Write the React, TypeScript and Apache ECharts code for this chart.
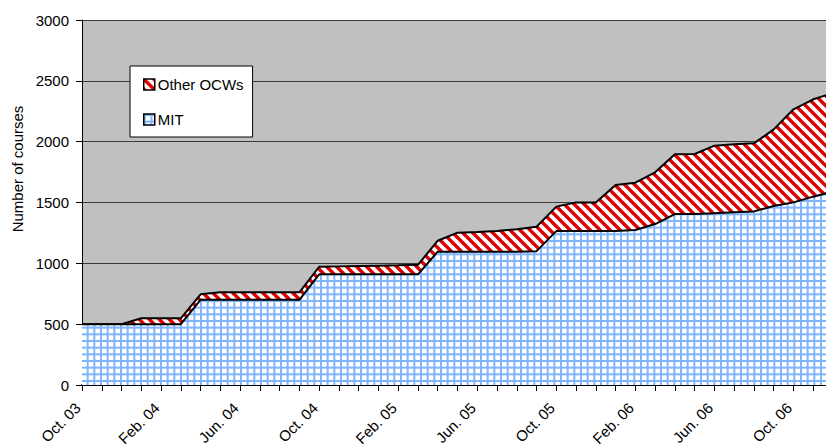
import React, { useEffect, useRef } from 'react';
import * as echarts from 'echarts';

// Monthly categories (Oct. 03 .. Dec. 06)
const months: string[] = [
  'Oct. 03', 'Nov. 03', 'Dec. 03',
  'Jan. 04', 'Feb. 04', 'Mar. 04', 'Apr. 04', 'May 04', 'Jun. 04', 'Jul. 04', 'Aug. 04', 'Sep. 04', 'Oct. 04', 'Nov. 04', 'Dec. 04',
  'Jan. 05', 'Feb. 05', 'Mar. 05', 'Apr. 05', 'May 05', 'Jun. 05', 'Jul. 05', 'Aug. 05', 'Sep. 05', 'Oct. 05', 'Nov. 05', 'Dec. 05',
  'Jan. 06', 'Feb. 06', 'Mar. 06', 'Apr. 06', 'May 06', 'Jun. 06', 'Jul. 06', 'Aug. 06', 'Sep. 06', 'Oct. 06', 'Nov. 06', 'Dec. 06',
];

// MIT courses published
const mitCourses: number[] = [
  500, 500, 500, 500, 500, 500, 700, 700, 700, 700, 700, 700, 910,
  910, 910, 910, 910, 910, 1096, 1096, 1096, 1096, 1096, 1100, 1265,
  1265, 1265, 1265, 1274, 1323, 1405, 1405, 1411, 1419, 1427, 1471, 1501,
  1548, 1590,
];

// Courses of other OpenCourseWare projects (stacked on MIT)
const otherOcwCourses: number[] = [
  0, 0, 0, 48, 48, 48, 45, 62, 62, 62, 62, 62, 62,
  65, 68, 71, 74, 78, 90, 156, 162, 170, 184, 201, 201,
  236, 236, 379, 389, 425, 491, 494, 556, 559, 559, 630, 765,
  800, 810,
];

const yMin = 0;
const yMax = 3000;
const yInterval = 500;

const FONT = '"Liberation Sans", Arial, Helvetica, sans-serif';

function makeBlueGrid(): HTMLCanvasElement {
  const c = document.createElement('canvas');
  c.width = 20;
  c.height = 20;
  const ctx = c.getContext('2d')!;
  ctx.fillStyle = '#ffffff';
  ctx.fillRect(0, 0, 20, 20);
  ctx.strokeStyle = '#80b4ff';
  ctx.lineWidth = 2;
  for (let k = 0; k < 3; k++) {
    const p = 1 + (k * 20) / 3;
    ctx.beginPath();
    ctx.moveTo(p, 0);
    ctx.lineTo(p, 20);
    ctx.stroke();
    ctx.beginPath();
    ctx.moveTo(0, p);
    ctx.lineTo(20, p);
    ctx.stroke();
  }
  return c;
}

function makeRedHatch(): HTMLCanvasElement {
  const s = 10;
  const c = document.createElement('canvas');
  c.width = s;
  c.height = s;
  const ctx = c.getContext('2d')!;
  ctx.fillStyle = '#ffffff';
  ctx.fillRect(0, 0, s, s);
  ctx.strokeStyle = '#dd0000';
  ctx.lineWidth = 3.4;
  for (let k = -1; k <= 1; k++) {
    ctx.beginPath();
    ctx.moveTo(k * s - 3, -3);
    ctx.lineTo(k * s + s + 3, s + 3);
    ctx.stroke();
  }
  return c;
}

export default function App() {
  const ref = useRef<HTMLDivElement>(null);

  useEffect(() => {
    if (!ref.current) return;
    const chart = echarts.init(ref.current, null, { renderer: 'svg' });

    const blue: any = { image: makeBlueGrid(), repeat: 'repeat', imageWidth: 20, imageHeight: 20 };
    const red: any = { image: makeRedHatch(), repeat: 'repeat', imageWidth: 10, imageHeight: 10 };

    chart.setOption({
      animation: false,
      textStyle: { fontFamily: FONT },
      grid: {
        left: 82,
        top: 20,
        bottom: 61,
        right: 27,
        show: true,
        backgroundColor: '#c0c0c0',
        borderWidth: 0,
        containLabel: false,
        outerBoundsMode: 'none',
      },
      legend: {
        orient: 'vertical',
        left: 130,
        top: 66,
        padding: [11, 9, 10, 13],
        itemGap: 20,
        itemWidth: 11,
        itemHeight: 11,
        icon: 'rect',
        backgroundColor: '#ffffff',
        borderColor: '#000000',
        borderWidth: 1,
        textStyle: { fontSize: 15, color: '#000', fontFamily: FONT, padding: [0, 0, 0, -2] },
        data: [
          { name: 'Other OCWs', itemStyle: { color: red, borderColor: '#000', borderWidth: 1.5 } },
          { name: 'MIT', itemStyle: { color: blue, borderColor: '#000', borderWidth: 1.5 } },
        ],
      },
      xAxis: {
        type: 'category',
        boundaryGap: false,
        data: months,
        axisLine: { show: true, lineStyle: { color: '#000', width: 2 } },
        axisTick: { show: true, interval: 0, length: 6, lineStyle: { color: '#000', width: 1 } },
        axisLabel: {
          interval: 3,
          rotate: 45,
          margin: 16,
          padding: [0, 6, 0, 0],
          fontSize: 15,
          color: '#000',
          fontFamily: FONT,
        },
        splitLine: { show: false },
      },
      yAxis: {
        type: 'value',
        min: yMin,
        max: yMax,
        interval: yInterval,
        axisLine: { show: true, lineStyle: { color: '#000', width: 1 } },
        axisTick: { show: true, length: 6, lineStyle: { color: '#000', width: 1 } },
        axisLabel: {
          fontSize: 15,
          color: '#000',
          margin: 13,
          fontFamily: FONT,
          formatter: (v: number) => String(v),
        },
        splitLine: { show: true, lineStyle: { color: '#3a3a3a', width: 1 } },
      },
      graphic: [
        {
          type: 'text',
          x: 17,
          y: 169,
          rotation: Math.PI / 2,
          style: {
            text: 'Number of courses',
            font: `15px ${FONT}`,
            fill: '#000',
            align: 'center',
            verticalAlign: 'middle',
          },
        },
      ],
      series: [
        {
          name: 'MIT',
          type: 'line',
          stack: 'total',
          data: mitCourses,
          symbol: 'none',
          z: 3,
          itemStyle: { color: blue },
          lineStyle: { color: '#000', width: 2 },
          areaStyle: { color: blue, opacity: 1 },
        },
        {
          name: 'Other OCWs',
          type: 'line',
          stack: 'total',
          data: otherOcwCourses,
          symbol: 'none',
          z: 2,
          itemStyle: { color: red },
          lineStyle: { color: '#000', width: 2 },
          areaStyle: { color: red, opacity: 1 },
        },
      ],
    });

    return () => chart.dispose();
  }, []);

  return (
    <div style={{ position: 'absolute', left: 0, top: 0, width: 826, height: 446, overflow: 'hidden', background: '#fff' }}>
      <div ref={ref} style={{ width: 860, height: 446 }} />
    </div>
  );
}
